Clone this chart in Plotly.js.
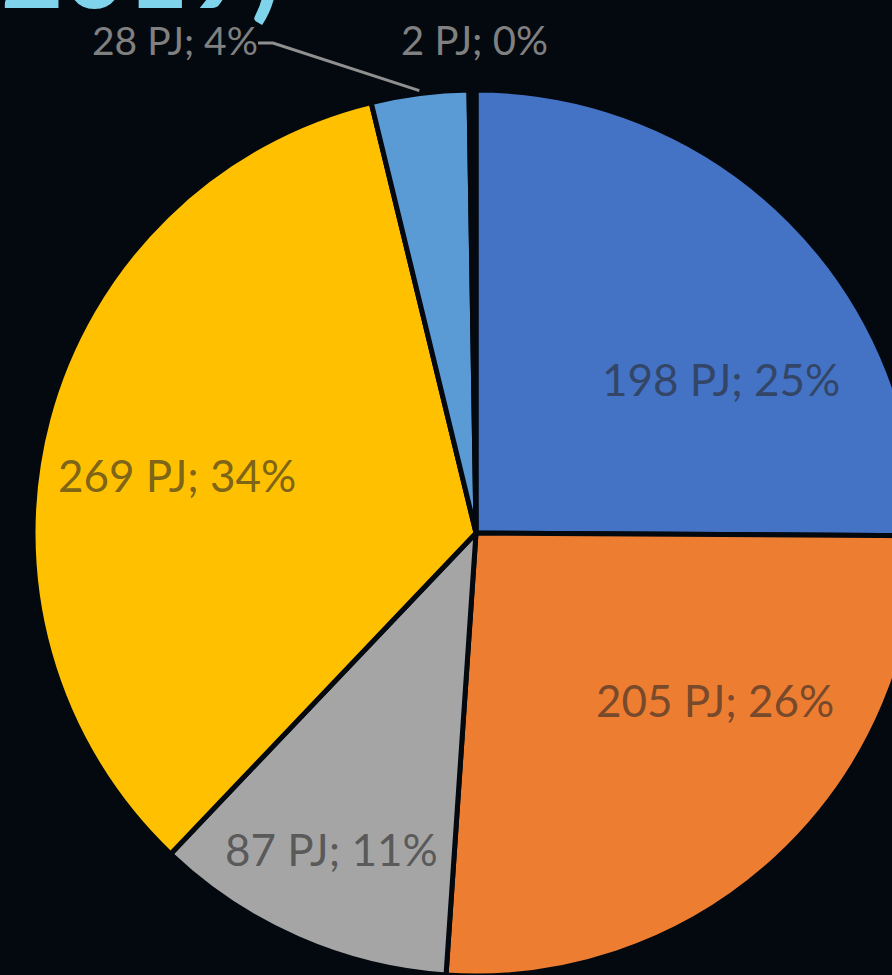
<!DOCTYPE html>
<html>
<head>
<meta charset="utf-8">
<script src="https://cdn.plot.ly/plotly-3.0.1.min.js"></script>
<style>
html, body { margin:0; padding:0; background:#03090f; overflow:hidden; width:892px; height:975px; }
#chart { position:absolute; left:0; top:-200px; width:1100px; height:1300px; }
</style>
</head>
<body>
<div id="chart"></div>
<script>
// ---- data ----
const categories = ['Segment A', 'Segment B', 'Segment C', 'Segment D', 'Segment E', 'Segment F'];
const values = [198, 205, 87, 269, 28, 2];
const unit = 'PJ';
const titleText = '(2019)';

// ---- styling / layout ----
const colors = ['#4472C4', '#ED7D31', '#A5A5A5', '#FFC000', '#5B9BD5', '#03090f'];
const W = 1100, H = 1300, OFFY = 200;      // plot div size and vertical offset
const CX = 476, CY = 533, R = 443;          // pie centre & radius in window pixels
function px(x) { return x / W; }
function py(y) { return 1 - (y + OFFY) / H; }

const total = values.reduce((a, b) => a + b, 0);
const labelTexts = values.map(v => `${v} ${unit}; ${Math.round(v / total * 100)}%`);

const insideColor = 'rgba(40,40,40,0.62)';
const outsideColor = '#808080';
const labelPlace = [
  { x: 721, y: 379, color: insideColor, size: 44 },
  { x: 715, y: 700, color: insideColor, size: 44 },
  { x: 331, y: 849, color: insideColor, size: 44 },
  { x: 177, y: 475, color: insideColor, size: 44 },
  { x: 175, y: 40, color: outsideColor, size: 39 },
  { x: 474, y: 40, color: outsideColor, size: 40 }
];

const annotations = labelTexts.map((t, i) => ({
  text: t, xref: 'paper', yref: 'paper',
  x: px(labelPlace[i].x), y: py(labelPlace[i].y),
  xanchor: 'center', yanchor: 'middle', showarrow: false,
  font: { family: 'Lato, "Open Sans", sans-serif', size: labelPlace[i].size, color: labelPlace[i].color }
}));

annotations.push({
  text: titleText, xref: 'paper', yref: 'paper',
  x: px(126), y: py(-34), xanchor: 'center', yanchor: 'middle', showarrow: false,
  font: { family: 'Lato, "Open Sans", sans-serif', size: 108, color: '#7fd3ea', weight: 'bold' }
});

// leader line for the small light-blue slice, end point from the slice's mid-angle
const cumBefore = values.slice(0, 4).reduce((a, b) => a + b, 0);
const midAngle = (cumBefore + values[4] / 2) / total * 2 * Math.PI;
const ex = CX + (R + 3) * Math.sin(midAngle);
const ey = CY - (R + 3) * Math.cos(midAngle);
const shapes = [{
  type: 'path', xref: 'paper', yref: 'paper',
  path: `M ${px(258)},${py(43)} L ${px(273)},${py(43)} L ${px(ex)},${py(ey)}`,
  line: { color: '#909090', width: 3 }
}];

const trace = {
  type: 'pie',
  labels: categories,
  values: values,
  sort: false,
  direction: 'clockwise',
  rotation: 0,
  textinfo: 'none',
  hoverinfo: 'none',
  showlegend: false,
  marker: { colors: colors, line: { color: '#03090f', width: 5 } },
  domain: { x: [px(CX - R), px(CX + R)], y: [py(CY + R), py(CY - R)] }
};

const layout = {
  width: W, height: H,
  margin: { l: 0, r: 0, t: 0, b: 0 },
  paper_bgcolor: '#03090f',
  plot_bgcolor: '#03090f',
  showlegend: false,
  annotations: annotations,
  shapes: shapes
};

Plotly.newPlot('chart', [trace], layout, { displayModeBar: false, staticPlot: true });
</script>
</body>
</html>
